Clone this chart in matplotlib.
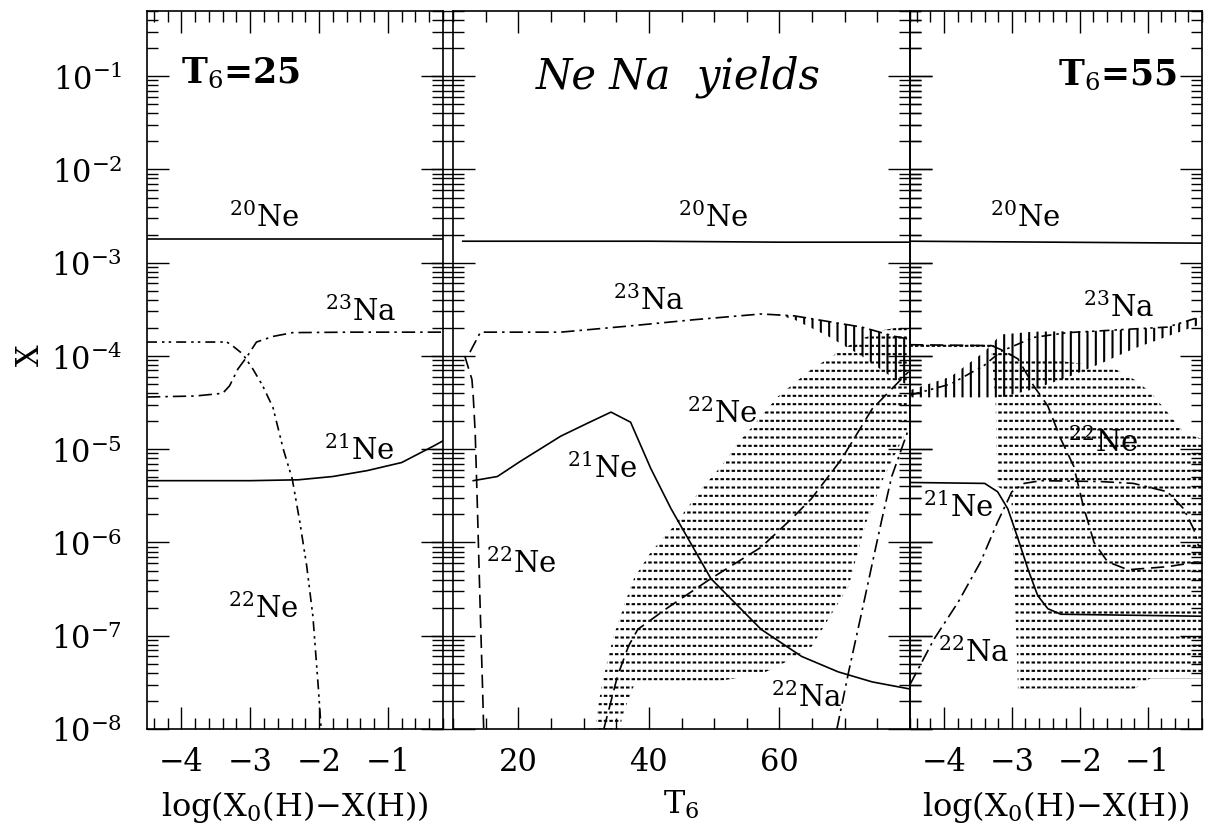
import numpy as np
import matplotlib.pyplot as plt
from matplotlib.ticker import FixedLocator, LogLocator, MultipleLocator, NullFormatter

plt.rcParams['font.family'] = ['DejaVu Serif']
plt.rcParams['mathtext.fontset'] = 'dejavuserif'
plt.rcParams['hatch.linewidth'] = 1.5

y_decades = [1e-8, 1e-7, 1e-6, 1e-5, 1e-4, 1e-3, 1e-2, 1e-1]

# ---- left panel: T6 = 25, abscissa log(X0(H)-X(H))
left_ne20_x = [-4.5, -0.2]
left_ne20 = [1.78e-3, 1.78e-3]
left_ne21_x = [-4.5, -3.0, -2.3, -1.8, -1.3, -0.8, -0.35, -0.2]
left_ne21 = [4.6e-6, 4.6e-6, 4.7e-6, 5.1e-6, 5.9e-6, 7.2e-6, 1.07e-5, 1.23e-5]
left_na23_x = [-4.5, -3.8, -3.4, -3.3, -3.18, -3.05, -2.91, -2.67, -2.38, -1.5, -0.2]
left_na23 = [3.63e-5, 3.72e-5, 3.98e-5, 4.79e-5, 7.24e-5, 9.77e-5, 1.41e-4, 1.62e-4,
             1.78e-4, 1.80e-4, 1.80e-4]
left_ne22_x = [-4.5, -3.34, -3.26, -3.11, -2.96, -2.82, -2.67, -2.52, -2.39, -2.28,
               -2.18, -2.09, -2.01, -1.97]
left_ne22 = [1.41e-4, 1.41e-4, 1.29e-4, 1.05e-4, 7.2e-5, 4.8e-5, 2.8e-5, 1.0e-5, 4.8e-6,
             1.66e-6, 5.6e-7, 1.62e-7, 2.7e-8, 1.0e-8]

# ---- middle panel: yields vs T6
mid_ne20_t = [11.5, 40, 60, 80]
mid_ne20 = [1.7e-3, 1.7e-3, 1.66e-3, 1.66e-3]
mid_ne21_t = [13.1, 16.8, 20.3, 26.5, 30.6, 34.2, 37.2, 40.3, 43.4, 49.5, 57.2, 63.4,
              69, 74.2, 79.8]
mid_ne21 = [4.6e-6, 5.1e-6, 7.4e-6, 1.38e-5, 1.9e-5, 2.5e-5, 1.95e-5, 6.2e-6, 2.3e-6,
            4.1e-7, 1.17e-7, 6.0e-8, 4.1e-8, 3.2e-8, 2.7e-8]
mid_na23_t = [12.6, 14.2, 20, 26.5, 36.8, 47, 57.2, 62.3, 67.5, 72.6, 77.7, 80]
mid_na23 = [1.10e-4, 1.80e-4, 1.80e-4, 1.80e-4, 2.09e-4, 2.45e-4, 2.82e-4, 2.69e-4,
            2.34e-4, 2.04e-4, 1.62e-4, 1.51e-4]
mid_ne22a_t = [11.8, 12.9, 13.1, 13.4, 13.7, 14.2, 14.5, 14.7]
mid_ne22a = [1.0e-4, 5.6e-5, 3.7e-5, 1.5e-5, 2.95e-6, 1.6e-7, 3.2e-8, 1.0e-8]
mid_ne22b_t = [33.1, 35.2, 36.9, 38.3, 42.9, 49.5, 57.2, 61.8, 64.9, 69.5, 74.2, 79.8]
mid_ne22b = [1.0e-8, 3.7e-8, 7.8e-8, 1.17e-7, 2.0e-7, 4.1e-7, 8.9e-7, 1.78e-6, 2.95e-6,
             7.8e-6, 2.7e-5, 6.8e-5]
mid_na22_t = [68.8, 70.6, 72.6, 74.6, 75.7, 77.2, 79.8]
mid_na22 = [1e-8, 4.1e-8, 1.78e-7, 7.9e-7, 1.78e-6, 5.1e-6, 1.66e-5]

mid_ne22_band_t = [31.8, 32.6, 33.6, 34.6, 35.5, 36.2, 37.7, 40.3, 43.4, 48, 51.1, 54.2,
                   57.2, 59.8, 64.9, 70.6, 73.1, 76, 79.5]
mid_ne22_hi = [1.07e-8, 2.5e-8, 5.2e-8, 1.0e-7, 1.5e-7, 2.1e-7, 4.1e-7, 7.9e-7, 1.38e-6,
               3.7e-6, 6.6e-6, 1.29e-5, 2.24e-5, 3.7e-5, 7.2e-5, 1.29e-4, 1.58e-4, 1.9e-4,
               2.1e-4]
mid_ne22_lo = [1e-8, 1e-8, 1e-8, 1e-8, 1e-8, 1.58e-8, 2.9e-8, 2.95e-8, 3.0e-8, 3.0e-8,
               3.3e-8, 3.6e-8, 3.9e-8, 4.7e-8, 7.6e-8, 3.4e-7, 1.51e-6, 5.0e-6, 1.58e-5]
mid_na23_band_t = [59.8, 62.3, 67.5, 72.6, 77.7, 80]
mid_na23_hi = [2.78e-4, 2.69e-4, 2.34e-4, 2.04e-4, 1.62e-4, 1.51e-4]
mid_na23_lo = [2.75e-4, 2.45e-4, 1.62e-4, 1.0e-4, 5.6e-5, 4.8e-5]

# ---- right panel: T6 = 55
right_ne20_x = [-4.5, -0.2]
right_ne20 = [1.7e-3, 1.62e-3]
right_ne21_x = [-4.5, -3.4, -3.21, -3.06, -2.91, -2.76, -2.62, -2.47, -2.28, -0.22]
right_ne21 = [4.4e-6, 4.3e-6, 3.5e-6, 2.3e-6, 1.1e-6, 5.1e-7, 2.7e-7, 1.95e-7, 1.7e-7,
              1.62e-7]
right_na23_x = [-4.5, -3.9, -3.41, -3.16, -2.68, -2.18, -1.69, -1.2, -0.71, -0.22]
right_na23 = [3.8e-5, 5.0e-5, 7.9e-5, 1.12e-4, 1.58e-4, 1.78e-4, 1.86e-4, 1.95e-4,
              2.04e-4, 2.63e-4]
right_na23_hi = [4.3e-5, 6.0e-5, 1.10e-4, 1.70e-4, 1.82e-4, 1.84e-4, 1.86e-4, 1.95e-4,
                 2.04e-4, 2.63e-4]
right_na23_lo = [3.6e-5, 3.6e-5, 3.6e-5, 3.6e-5, 4.4e-5, 5.9e-5, 8.3e-5, 1.20e-4,
                 1.62e-4, 2.19e-4]
right_ne22_x = [-4.5, -3.3, -3.16, -2.91, -2.68, -2.47, -2.28, -2.09, -1.95, -1.79,
                -1.59, -1.29, -0.71, -0.25]
right_ne22 = [1.32e-4, 1.29e-4, 1.17e-4, 9.3e-5, 4.8e-5, 2.9e-5, 1.29e-5, 6.6e-6, 2.5e-6,
              1.0e-6, 6.2e-7, 5.1e-7, 5.5e-7, 6.2e-7]
right_na22_x = [-4.5, -4.15, -3.79, -3.46, -3.21, -3.0, -2.82, -2.57, -1.69, -1.21,
                -0.71, -0.47, -0.32, -0.25]
right_na22 = [3.0e-8, 9.1e-8, 2.3e-7, 6.2e-7, 1.66e-6, 3.5e-6, 4.3e-6, 4.6e-6, 4.5e-6,
              4.3e-6, 3.5e-6, 2.3e-6, 1.38e-6, 9.1e-7]
right_ne22_band_x = [-4.5, -3.6, -3.3, -3.24, -3.21, -3.01, -2.97, -2.91, -2.5, -2.0,
                     -1.5, -1.2, -0.96, -0.71, -0.47, -0.2]
right_ne22_hi = [1.41e-4, 1.41e-4, 1.35e-4, 1.26e-4, 1.20e-4, 1.05e-4, 1.02e-4, 1.0e-4,
                 9.3e-5, 8.3e-5, 7.4e-5, 5.6e-5, 4.1e-5, 2.5e-5, 1.51e-5, 1.29e-5]
right_ne22_lo = [1.17e-4, 1.17e-4, 1.12e-4, 3.2e-5, 4.0e-6, 3.2e-6, 6.3e-7, 2.7e-8,
                 2.7e-8, 2.7e-8, 2.7e-8, 2.7e-8, 3.5e-8, 3.5e-8, 3.5e-8, 3.5e-8]

LONG_DASH = (0, (8, 4))
DASH_DOT = (0, (8, 3, 1.5, 3))
DASH_DOT_DOT = (0, (6, 3, 1.5, 2.5, 1.5, 3))
LW = 1.2

W, H = 1214, 837
fig = plt.figure(figsize=(W / 100, H / 100), dpi=100)


def px_axes(x0, x1, y0=12, y1=730):
    return fig.add_axes([x0 / W, 1 - y1 / H, (x1 - x0) / W, (y1 - y0) / H])


ax_l = px_axes(147, 443)
ax_m = px_axes(453, 910)
ax_r = px_axes(910, 1202)


def frame(ax, ydir, ylen, labels):
    ax.set_yscale('log')
    ax.set_ylim(1e-8, 0.5)
    ax.set_facecolor('none')
    for s in ax.spines.values():
        s.set_linewidth(1.2)
    ax.yaxis.set_major_locator(FixedLocator(y_decades))
    ax.yaxis.set_minor_locator(LogLocator(base=10, subs=np.arange(2, 10), numticks=20))
    ax.yaxis.set_minor_formatter(NullFormatter())
    ax.tick_params(axis='y', which='both', direction=ydir, left=True, right=True,
                   labelleft=labels, width=1.0, labelsize=22, pad=18)
    ax.tick_params(axis='y', which='major', length=ylen)
    ax.tick_params(axis='y', which='minor', length=ylen * 0.5)
    ax.tick_params(axis='x', which='both', direction='in', top=True, bottom=True,
                   width=1.0, labelsize=22, pad=12)
    ax.tick_params(axis='x', which='major', length=16)
    ax.tick_params(axis='x', which='minor', length=8)


def band(ax, x, lo, hi, hatch, color, z):
    ax.fill_between(x, lo, hi, facecolor='none', edgecolor=color,
                    linewidth=0, hatch=hatch, zorder=z)


def dotted_band(ax, x, lo, hi):
    # rows of short dashes: black rows chopped by white columns
    band(ax, x, lo, hi, '--', 'black', 1.0)
    band(ax, x, lo, hi, '|||', 'white', 1.1)


def iso(ax, x, y, s):
    ax.text(x, y, s, ha='center', va='baseline', fontsize=21, zorder=5)


# left panel
frame(ax_l, 'in', 16, True)
ax_l.set_xlim(-4.5, -0.2)
ax_l.xaxis.set_major_locator(FixedLocator([-4, -3, -2, -1]))
ax_l.xaxis.set_minor_locator(MultipleLocator(0.2))
ax_l.xaxis.set_major_formatter(lambda v, p: f'−{abs(int(v))}')
ax_l.plot(left_ne20_x, left_ne20, color='black', lw=LW, zorder=3)
ax_l.plot(left_ne21_x, left_ne21, color='black', lw=LW, zorder=3)
ax_l.plot(left_na23_x, left_na23, color='black', lw=LW, ls=DASH_DOT, zorder=3)
ax_l.plot(left_ne22_x, left_ne22, color='black', lw=LW, ls=DASH_DOT_DOT, zorder=3)
ax_l.text(-4.0, 8.6e-2, 'T$_6$=25', fontsize=25, fontweight='bold',
          ha='left', va='baseline')
iso(ax_l, -2.80, 2.45e-3, r'$^{20}$Ne')
iso(ax_l, -1.40, 2.45e-4, r'$^{23}$Na')
iso(ax_l, -1.42, 7.8e-6, r'$^{21}$Ne')
iso(ax_l, -2.82, 1.58e-7, r'$^{22}$Ne')
ax_l.set_xlabel('log(X$_0$(H)−X(H))', fontsize=23, labelpad=8)

# middle panel
frame(ax_m, 'inout', 32, False)
ax_m.set_xlim(10, 80)
ax_m.xaxis.set_major_locator(FixedLocator([20, 40, 60]))
ax_m.xaxis.set_minor_locator(MultipleLocator(5))
dotted_band(ax_m, mid_ne22_band_t, mid_ne22_lo, mid_ne22_hi)
band(ax_m, mid_na23_band_t, mid_na23_lo, mid_na23_hi, '||', 'black', 1.2)
ax_m.plot(mid_ne20_t, mid_ne20, color='black', lw=LW, zorder=3)
ax_m.plot(mid_ne21_t, mid_ne21, color='black', lw=LW, zorder=3)
ax_m.plot(mid_na23_t, mid_na23, color='black', lw=LW, ls=DASH_DOT, zorder=3)
ax_m.plot(mid_ne22a_t, mid_ne22a, color='black', lw=LW, ls=LONG_DASH, zorder=3)
ax_m.plot(mid_ne22b_t, mid_ne22b, color='black', lw=LW, ls=LONG_DASH, zorder=3)
ax_m.plot(mid_na22_t, mid_na22, color='black', lw=LW, ls=DASH_DOT, zorder=3)
ax_m.text(44.5, 7.6e-2, 'Ne Na  yields', fontsize=30, style='italic',
          ha='center', va='baseline')
iso(ax_m, 49.9, 2.45e-3, r'$^{20}$Ne')
iso(ax_m, 40.0, 3.16e-4, r'$^{23}$Na')
iso(ax_m, 51.2, 1.95e-5, r'$^{22}$Ne')
iso(ax_m, 32.9, 5.0e-6, r'$^{21}$Ne')
iso(ax_m, 20.5, 4.8e-7, r'$^{22}$Ne')
iso(ax_m, 64.2, 1.78e-8, r'$^{22}$Na')
ax_m.set_xlabel('T$_6$', fontsize=23, labelpad=8)

# right panel
frame(ax_r, 'in', 16, False)
ax_r.set_xlim(-4.5, -0.2)
ax_r.xaxis.set_major_locator(FixedLocator([-4, -3, -2, -1]))
ax_r.xaxis.set_minor_locator(MultipleLocator(0.2))
ax_r.xaxis.set_major_formatter(lambda v, p: f'−{abs(int(v))}')
dotted_band(ax_r, right_ne22_band_x, right_ne22_lo, right_ne22_hi)
band(ax_r, right_na23_x, right_na23_lo, right_na23_hi, '||', 'black', 1.2)
ax_r.plot(right_ne20_x, right_ne20, color='black', lw=LW, zorder=3)
ax_r.plot(right_ne21_x, right_ne21, color='black', lw=LW, zorder=3)
ax_r.plot(right_na23_x, right_na23, color='black', lw=LW, ls=DASH_DOT_DOT, zorder=3)
ax_r.plot(right_ne22_x, right_ne22, color='black', lw=LW, ls=LONG_DASH, zorder=3)
ax_r.plot(right_na22_x, right_na22, color='black', lw=LW, ls=DASH_DOT, zorder=3)
ax_r.text(-0.56, 8.1e-2, 'T$_6$=55', fontsize=25, fontweight='bold',
          ha='right', va='baseline')
iso(ax_r, -2.81, 2.45e-3, r'$^{20}$Ne')
iso(ax_r, -1.43, 2.7e-4, r'$^{23}$Na')
iso(ax_r, -1.66, 9.5e-6, r'$^{22}$Ne')
iso(ax_r, -3.79, 1.9e-6, r'$^{21}$Ne')
iso(ax_r, -3.57, 5.4e-8, r'$^{22}$Na')
ax_r.set_xlabel('log(X$_0$(H)−X(H))', fontsize=23, labelpad=8)

fig.text(30 / W, 1 - 355 / H, 'X', rotation=90, fontsize=22, ha='center', va='center')

fig.savefig('out.png', dpi=100)
